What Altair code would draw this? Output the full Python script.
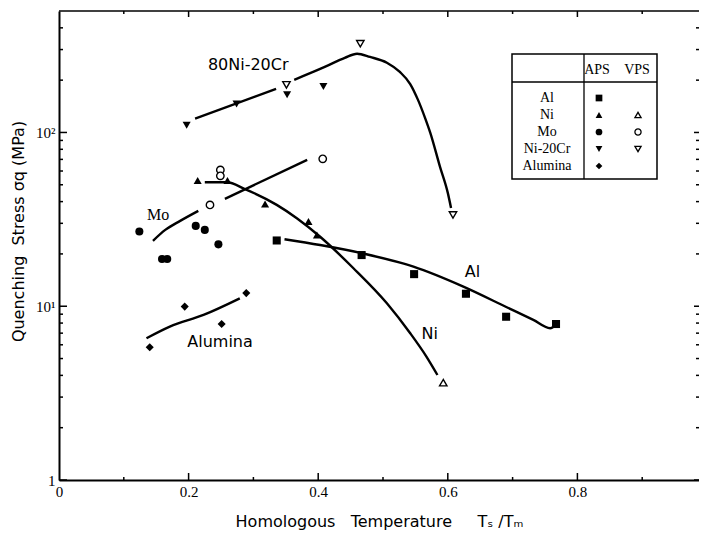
import altair as alt
import pandas as pd

# ---------------- values ----------------
materials = ["Al", "Ni", "Mo", "Ni-20Cr", "Alumina"]
shape_names = ["square", "triangle-up", "circle", "triangle-down", "diamond"]

# measured points  (homologous temperature, quenching stress MPa)
al_aps_x = [0.336, 0.467, 0.548, 0.628, 0.690, 0.767]
al_aps_y = [23.9, 19.7, 15.3, 11.8, 8.7, 7.9]
ni_aps_x = [0.214, 0.260, 0.318, 0.385, 0.398]
ni_aps_y = [52.9, 52.9, 38.7, 30.7, 25.7]
ni_vps_x = [0.593]
ni_vps_y = [3.63]
mo_aps_x = [0.124, 0.159, 0.167, 0.211, 0.225, 0.246]
mo_aps_y = [26.9, 18.7, 18.7, 29.0, 27.5, 22.7]
mo_vps_x = [0.233, 0.249, 0.249, 0.407]
mo_vps_y = [38.3, 60.9, 56.3, 70.5]
nicr_aps_x = [0.197, 0.274, 0.352, 0.408]
nicr_aps_y = [110, 146, 165, 184]
nicr_vps_x = [0.351, 0.465, 0.608]
nicr_vps_y = [188, 324, 33.5]
alu_aps_x = [0.140, 0.194, 0.251, 0.289]
alu_aps_y = [5.8, 9.95, 7.9, 11.9]

# hand-drawn trend curves
nicr_fit1_x = [0.210, 0.335]
nicr_fit1_y = [120, 178]
nicr_fit2_x = [0.363, 0.411, 0.441, 0.460, 0.480, 0.506, 0.526, 0.542, 0.554, 0.565, 0.573, 0.588, 0.600, 0.605]
nicr_fit2_y = [201, 239, 269, 284, 272, 252, 223, 190, 154, 121, 99.5, 63.4, 44.9, 36.8]
mo_fit1_x = [0.145, 0.164, 0.187, 0.215]
mo_fit1_y = [23.8, 27.5, 31.0, 35.4]
mo_fit2_x = [0.256, 0.383]
mo_fit2_y = [41.5, 69.6]
ni_fit_x = [0.225, 0.259, 0.287, 0.336, 0.367, 0.403, 0.454, 0.506, 0.542, 0.567, 0.584]
ni_fit_y = [51.7, 51.7, 47.2, 38.3, 32.1, 25.1, 16.6, 10.4, 6.99, 5.13, 4.02]
al_fit_x = [0.348, 0.403, 0.467, 0.547, 0.624, 0.691, 0.732, 0.758, 0.767]
al_fit_y = [24.3, 22.5, 20.2, 16.9, 12.97, 9.87, 8.34, 7.47, 7.87]
alu_fit_x = [0.135, 0.171, 0.223, 0.279]
alu_fit_y = [6.54, 7.63, 8.91, 11.1]

# curve labels
label_text = ["80Ni-20Cr", "Al", "Ni", "Alumina"]
label_x = [0.292, 0.638, 0.572, 0.2485]
label_y = [245, 15.8, 6.93, 6.25]
mo_label_x = [0.153]
mo_label_y = [33.5]

# legend table
legend_rows = materials
legend_has_aps = [True, True, True, True, True]
legend_has_vps = [False, True, True, True, False]

# axis ticks
x_label_values = [0, 0.2, 0.4, 0.6, 0.8]
y_label_values = [1, 10, 100]
ytick_major = [1, 10, 100]
ytick_minor = [2, 3, 4, 5, 6, 7, 8, 9, 20, 30, 40, 50, 60, 70, 80, 90, 200, 300, 400]
xtick_major = [0.2, 0.4, 0.6, 0.8]
xtick_minor = [0.1, 0.3, 0.5, 0.7, 0.9]

# ---------------- build tables ----------------
def pts(xs, ys, mat, proc):
    return pd.DataFrame({"x": xs, "y": ys, "material": mat, "process": proc})

points = pd.concat([
    pts(al_aps_x, al_aps_y, "Al", "APS"),
    pts(ni_aps_x, ni_aps_y, "Ni", "APS"),
    pts(ni_vps_x, ni_vps_y, "Ni", "VPS"),
    pts(mo_aps_x, mo_aps_y, "Mo", "APS"),
    pts(mo_vps_x, mo_vps_y, "Mo", "VPS"),
    pts(nicr_aps_x, nicr_aps_y, "Ni-20Cr", "APS"),
    pts(nicr_vps_x, nicr_vps_y, "Ni-20Cr", "VPS"),
    pts(alu_aps_x, alu_aps_y, "Alumina", "APS"),
], ignore_index=True)

curves = []
for name, xs, ys in [("nicr1", nicr_fit1_x, nicr_fit1_y), ("nicr2", nicr_fit2_x, nicr_fit2_y),
                     ("mo1", mo_fit1_x, mo_fit1_y), ("mo2", mo_fit2_x, mo_fit2_y),
                     ("ni", ni_fit_x, ni_fit_y), ("al", al_fit_x, al_fit_y),
                     ("alu", alu_fit_x, alu_fit_y)]:
    curves.append(pd.DataFrame({"x": xs, "y": ys, "seg": name, "i": range(len(xs))}))
curves = pd.concat(curves, ignore_index=True)

labels = pd.DataFrame({"x": label_x, "y": label_y, "t": label_text})
mo_label = pd.DataFrame({"x": mo_label_x, "y": mo_label_y, "t": ["Mo"]})

W, H = 640, 469
PX_PER_UNIT = 648.0
X_MAX = W / PX_PER_UNIT
one = pd.DataFrame({"a": [0]})
sp = "\u00a0"

xaxis = alt.Axis(values=x_label_values,
                 labelExpr="datum.value == 0 ? '0' : format(datum.value, '.1f')",
                 ticks=False, grid=False, domainColor="black", domainWidth=2,
                 labelFont="Liberation Serif", labelFontSize=15, labelColor="black",
                 labelPadding=4, labelFlush=False, labelOverlap=False,
                 title="Homologous" + sp * 3 + "Temperature" + sp * 5 + "T\u209b" + sp + "/T\u2098",
                 titleFont="DejaVu Sans", titleFontSize=16, titleFontWeight="normal",
                 titleColor="black", titlePadding=14)
yaxis = alt.Axis(values=y_label_values,
                 labelExpr="datum.value == 100 ? '10\u00b2' : datum.value == 10 ? '10\u00b9' : '1'",
                 ticks=False, grid=False, domainColor="black", domainWidth=2,
                 labelFont="Liberation Serif", labelFontSize=15, labelColor="black",
                 labelPadding=4, labelFlush=False, labelOverlap=False,
                 title="Quenching" + sp * 2 + "Stress" + sp + "\u03c3q" + sp + "(MPa)",
                 titleFont="DejaVu Sans", titleFontSize=16, titleFontWeight="normal",
                 titleColor="black", titleX=-41, titleY=220, titleAngle=270,
                 titleBaseline="middle", titleAlign="center")

X = alt.X("x:Q", scale=alt.Scale(domain=[0, X_MAX], nice=False, zero=False), axis=xaxis)
Y = alt.Y("y:Q", scale=alt.Scale(type="log", domain=[1, 500], nice=False), axis=yaxis)

shape_enc = alt.Shape("material:N", scale=alt.Scale(domain=materials, range=shape_names), legend=None)

layers = []

# curves
layers.append(alt.Chart(curves).mark_line(color="black", strokeWidth=2.4, interpolate="monotone")
              .encode(x=X, y=Y, detail="seg:N", order="i:Q"))

# points
layers.append(alt.Chart(points[points.process == "APS"]).mark_point(filled=True, color="black", size=65, opacity=1)
              .encode(x=X, y=Y, shape=shape_enc))
layers.append(alt.Chart(points[points.process == "VPS"]).mark_point(filled=False, color="black", size=55,
                                                                     strokeWidth=1.4, opacity=1, fill="white")
              .encode(x=X, y=Y, shape=shape_enc))

# curve labels
layers.append(alt.Chart(labels).mark_text(font="DejaVu Sans", fontSize=16, color="black")
              .encode(x=X, y=Y, text="t:N"))
layers.append(alt.Chart(mo_label).mark_text(font="Liberation Serif", fontSize=16, color="black")
              .encode(x=X, y=Y, text="t:N"))

# inward ticks
tick_style = dict(color="black", strokeWidth=1.5)
ymaj = pd.DataFrame({"y": ytick_major})
ymin = pd.DataFrame({"y": ytick_minor})
xmaj = pd.DataFrame({"x": xtick_major})
xmin = pd.DataFrame({"x": xtick_minor})
layers.append(alt.Chart(ymaj).mark_rule(**tick_style).encode(y=Y, x=alt.value(0), x2=alt.value(8)))
layers.append(alt.Chart(ymin).mark_rule(**tick_style).encode(y=Y, x=alt.value(0), x2=alt.value(4)))
layers.append(alt.Chart(ymaj).mark_rule(**tick_style).encode(y=Y, x=alt.value(W), x2=alt.value(W - 5)))
layers.append(alt.Chart(ymin).mark_rule(**tick_style).encode(y=Y, x=alt.value(W), x2=alt.value(W - 3)))
layers.append(alt.Chart(xmaj).mark_rule(**tick_style).encode(x=X, y=alt.value(H), y2=alt.value(H - 7)))
layers.append(alt.Chart(xmin).mark_rule(**tick_style).encode(x=X, y=alt.value(H), y2=alt.value(H - 3)))
layers.append(alt.Chart(xmaj).mark_rule(**tick_style).encode(x=X, y=alt.value(0), y2=alt.value(6)))
layers.append(alt.Chart(xmin).mark_rule(**tick_style).encode(x=X, y=alt.value(0), y2=alt.value(3)))

# top frame line
layers.append(alt.Chart(one).mark_rule(color="black", strokeWidth=1.3)
              .encode(x=alt.value(0), x2=alt.value(W), y=alt.value(0)))

# legend table
bx0, bx1, by0, by1 = 453, 598, 43, 168
hy, dx = 71, 525
lab_x, aps_x, vps_x = 488, 540, 579
row_y0, row_dy = 87, 17
layers.append(alt.Chart(one).mark_rect(fillOpacity=0, stroke="black", strokeWidth=1.5)
              .encode(x=alt.value(bx0), x2=alt.value(bx1), y=alt.value(by0), y2=alt.value(by1)))
layers.append(alt.Chart(one).mark_rule(color="black", strokeWidth=1.3)
              .encode(x=alt.value(bx0), x2=alt.value(bx1), y=alt.value(hy)))
layers.append(alt.Chart(one).mark_rule(color="black", strokeWidth=1.3)
              .encode(x=alt.value(dx), y=alt.value(by0), y2=alt.value(by1)))
legend_font = dict(font="Liberation Serif", fontSize=14, color="black")
layers.append(alt.Chart(one).mark_text(**legend_font)
              .encode(x=alt.value(538), y=alt.value(by0 + 16), text=alt.value("APS")))
layers.append(alt.Chart(one).mark_text(**legend_font)
              .encode(x=alt.value(578), y=alt.value(by0 + 16), text=alt.value("VPS")))
for i, name in enumerate(legend_rows):
    ry = row_y0 + i * row_dy
    layers.append(alt.Chart(one).mark_text(**legend_font)
                  .encode(x=alt.value(lab_x), y=alt.value(ry), text=alt.value(name)))
    if legend_has_aps[i]:
        layers.append(alt.Chart(one).mark_point(shape=shape_names[i], filled=True, color="black",
                                                size=45, opacity=1)
                      .encode(x=alt.value(aps_x), y=alt.value(ry)))
    if legend_has_vps[i]:
        layers.append(alt.Chart(one).mark_point(shape=shape_names[i], filled=False, color="black",
                                                size=38, strokeWidth=1.3, opacity=1)
                      .encode(x=alt.value(vps_x), y=alt.value(ry)))

chart = alt.layer(*layers).properties(
    width=W, height=H, autosize="none",
    padding={"left": 51, "top": 3, "right": 0, "bottom": 58},
    background="white",
).configure_view(stroke=None)

chart.save("out.html", embed_options={"renderer": "svg", "actions": False})
